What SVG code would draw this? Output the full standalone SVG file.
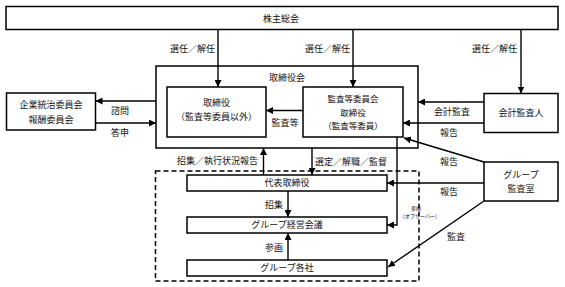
<svg xmlns="http://www.w3.org/2000/svg" width="565" height="287" viewBox="0 0 565 287">
<defs>
<marker id="ah" markerUnits="userSpaceOnUse" markerWidth="7" markerHeight="7" refX="7" refY="3.5" orient="auto">
<path d="M0,0 L7,3.5 L0,7 z" fill="#000"/>
</marker>
<style>
.box{fill:#fff;stroke:#000;stroke-width:1.5}
.dash{fill:none;stroke:#000;stroke-width:1.5;stroke-dasharray:5,3}
.ln{fill:none;stroke:#000;stroke-width:1.4}
.arr{fill:none;stroke:#000;stroke-width:1.4;marker-end:url(#ah)}
text{font-family:"Noto Sans CJK JP","Noto Sans CJK SC",sans-serif;font-size:9px;fill:#111}
.c{text-anchor:middle}
.r{text-anchor:end}
.s{font-size:5px}
.m{font-size:8.5px}
</style>
</defs>
<rect width="565" height="287" fill="#fff"/>

<g id="shareholders">
<rect class="box" x="6" y="6.5" width="552" height="23"/>
<text class="c" x="281" y="21.5">株主総会</text>
</g>

<g id="board">
<rect class="box" x="156" y="66" width="262" height="82"/>
<text class="c" x="287" y="80.5">取締役会</text>
</g>

<g id="directors">
<rect class="box" x="167" y="87" width="99" height="50"/>
<text class="c" x="216.5" y="106">取締役</text>
<text class="c" x="216.5" y="120">（監査等委員以外）</text>
</g>

<g id="audit-committee">
<rect class="box" x="303" y="87" width="100" height="50"/>
<text class="c m" x="353" y="101.5">監査等委員会</text>
<text class="c m" x="353" y="116">取締役</text>
<text class="c m" x="353" y="128.5">（監査等委員）</text>
</g>

<g id="governance">
<rect class="box" x="6.5" y="93" width="89" height="37"/>
<text class="c" x="51" y="108">企業統治委員会</text>
<text class="c" x="51" y="123">報酬委員会</text>
</g>

<g id="auditor">
<rect class="box" x="484" y="93.5" width="74" height="39"/>
<text class="c" x="521" y="116">会計監査人</text>
</g>

<g id="group-audit">
<rect class="box" x="484" y="162" width="74" height="39"/>
<text class="c" x="521" y="178">グループ</text>
<text class="c" x="521" y="192">監査室</text>
</g>

<g id="exec-area">
<rect class="dash" x="155.5" y="171" width="263.5" height="110"/>
</g>

<g id="ceo">
<rect class="box" x="187" y="175" width="200" height="16"/>
<text class="c" x="287" y="186">代表取締役</text>
</g>

<g id="mgmt-meeting">
<rect class="box" x="187" y="217" width="200" height="16"/>
<text class="c" x="287" y="228">グループ経営会議</text>
</g>

<g id="group-cos">
<rect class="box" x="187" y="260" width="200" height="16"/>
<text class="c" x="287" y="271">グループ各社</text>
</g>

<g id="connectors">
<line class="arr" x1="218" y1="29.5" x2="218" y2="87"/>
<line class="arr" x1="353" y1="29.5" x2="353" y2="87"/>
<line class="arr" x1="521" y1="29.5" x2="521" y2="93.5"/>
<line class="arr" x1="156" y1="101" x2="95.5" y2="101"/>
<line class="arr" x1="95.5" y1="123" x2="156" y2="123"/>
<line class="arr" x1="303" y1="110.5" x2="266" y2="110.5"/>
<line class="arr" x1="484" y1="102" x2="418" y2="102"/>
<line class="arr" x1="484" y1="123" x2="403" y2="123"/>
<line class="arr" x1="484" y1="162" x2="404" y2="138"/>
<line class="arr" x1="484" y1="183" x2="387" y2="183"/>
<line class="arr" x1="484" y1="201" x2="388" y2="267"/>
<line class="arr" x1="263.5" y1="175" x2="263.5" y2="148"/>
<line class="arr" x1="312" y1="148" x2="312" y2="175"/>
<polyline class="arr" points="397,137 397,225 387,225"/>
<line class="arr" x1="288" y1="191" x2="288" y2="217"/>
<line class="arr" x1="288" y1="260" x2="288" y2="233"/>

<text class="r" x="215" y="52">選任／解任</text>
<text class="r" x="350" y="52">選任／解任</text>
<text class="r" x="517" y="52">選任／解任</text>
<text class="c" x="120" y="114">諮問</text>
<text class="c" x="120" y="136">答申</text>
<text class="c" x="285" y="126">監査等</text>
<text class="c" x="452" y="114.5">会計監査</text>
<text class="c" x="449" y="136">報告</text>
<text class="c" x="449" y="165">報告</text>
<text class="c" x="449" y="195">報告</text>
<text class="c" x="456" y="240">監査</text>
<text class="r" x="258" y="164">招集／執行状況報告</text>
<text x="315" y="165">選定／解職／監督</text>
<text class="r" x="283" y="208">招集</text>
<text class="r" x="283" y="251">参画</text>
<text class="c s" x="416" y="210">参画</text>
<text class="c s" x="420" y="217.5">（オブザーバー）</text>
</g>
</svg>
